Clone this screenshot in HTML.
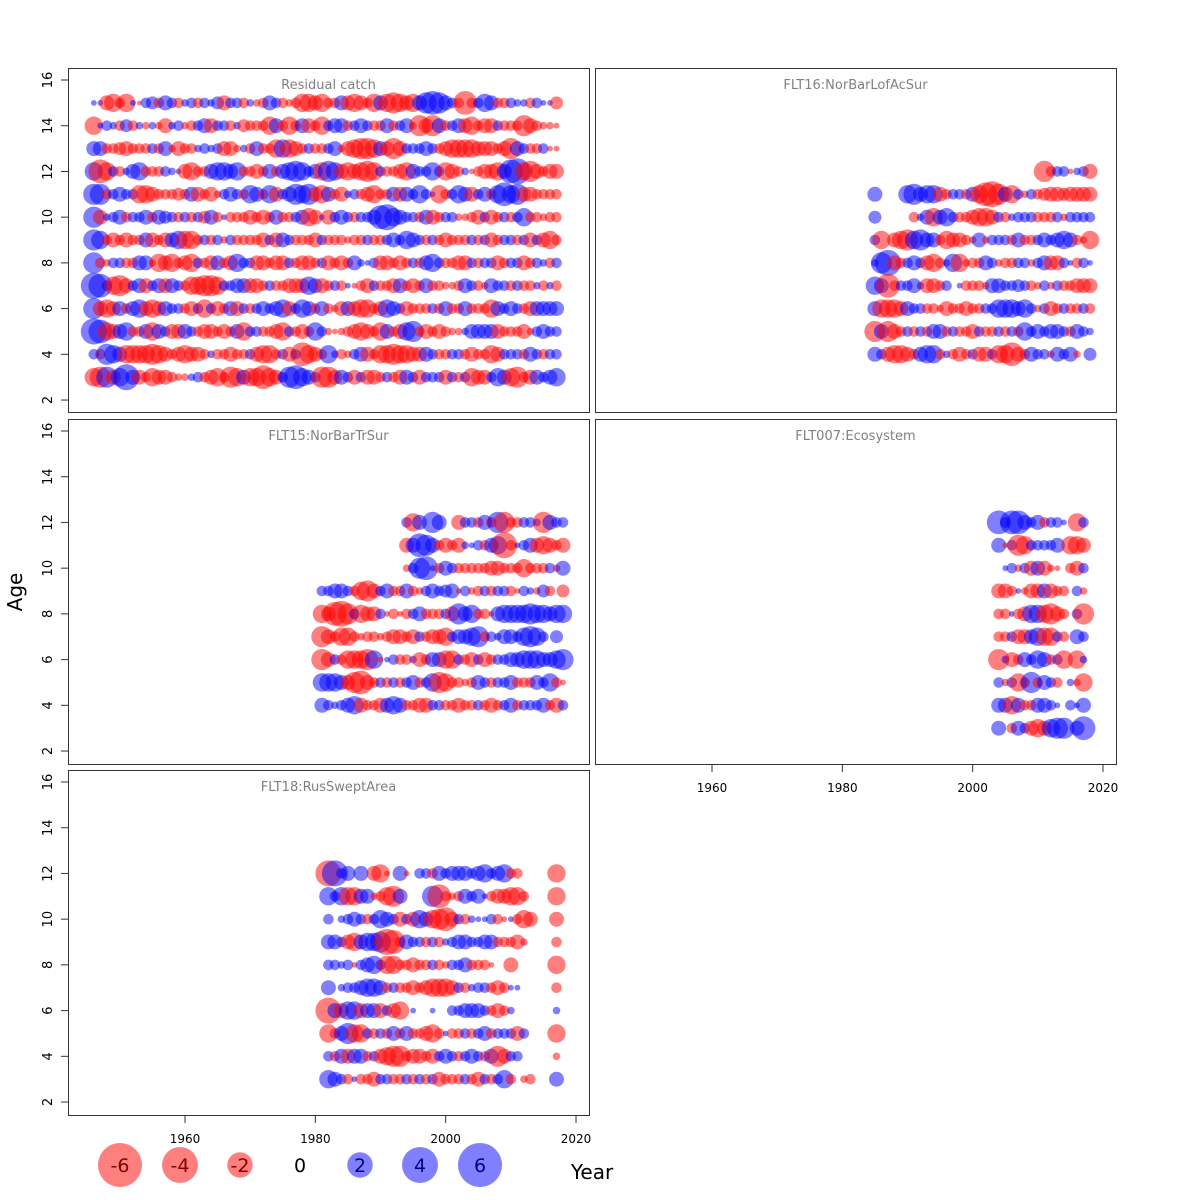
<!DOCTYPE html>
<html><head><meta charset="utf-8">
<style>
html,body{margin:0;padding:0;background:#fff;}
svg{display:block;font-family:"DejaVu Sans","Liberation Sans",sans-serif;}
</style></head>
<body>
<svg id="chart" width="1200" height="1200" viewBox="0 0 1200 1200" xmlns="http://www.w3.org/2000/svg">
<text x="22" y="592" font-size="20" text-anchor="middle" transform="rotate(-90 22 592)">Age</text>
<text x="592" y="1179" font-size="20" text-anchor="middle">Year</text>
<g id="legend"></g>
</svg>
<script>
const N = null;
const panelTitles = ["Residual catch","FLT16:NorBarLofAcSur","FLT15:NorBarTrSur","FLT007:Ecosystem","FLT18:RusSweptArea"];
const yTicks = [2,4,6,8,10,12,14,16];
const xTicks = [1960,1980,2000,2020];
const legendValues = [-6,-4,-2,0,2,4,6];
// residual arrays below are recorded in estimated size units; residual = unit * unitToResidual
const unitToResidual = 0.35;

const catchStart = 1946;
const catchAges = [15,14,13,12,11,10,9,8,7,6,5,4,3];
const catchRes = [
[0.3,0.3,-2,-3,-1,-3,0.3,-0.2,1,1.5,-1,2, 1,-1,0.5,1,-1,1,0.5,1.5,-2,1,1,-1, 0.5,-0.5,-1,2,1,-1,-0.5,-1,-3,-3,-2,-3, -1,-1,2,-2,-3,-2,-1,-3,2,-3,-4,-3, -2,-3,2,4,5,4,2,1,-1,-5,-1,1, 3,2,-1,-1,1,0.5,0.5,-1,1,0.3,0.3,-1.5],
[-3,0.3,1,0.5,-1,1.5,-1,0.5,-0.5,0.5,-0.5,-2, 0.5,1,-0.5,-1,1,2,-2,1,1,-1,0.5,-1.5, -1,-1,-1,-3,2,-1,-3,-1,2,-2,-1,-3, 1,2,2,-1,1,2,1,-1,-1,2,-1,1, 2,-0.5,-4,-2,-4,2,-1,1,2,-2,-3,-1, -2,-2,1,-1,-1,-1,-4,-2,-1,-0.5,-0.5,-0.3],
[2,2,-1,-1,-1.5,-2,-1,-1,-1,1,-1,2, -0.5,-2,-1,-1,0.5,1,0.5,1,-2,-2,-0.5,0.5, -1,2,-1,-1,-3,3,-3,-2,-1,1,-1,-1, 1,2,-0.5,-2,-3,-4,-4,-3,2,-2,-4,-2, 1,1,1,2,1,-1,-2,-3,-3,-3,-3,-2, -2,-2,-1,-2,-4,2,1,-1,-1,1,-0.3,-0.3],
[3,-5,-3,1,-1,0.5,2,3,-1,-1,-1,1, 0.5,0.3,-2,-3,-1,-1,2,3,3,2,3,-1, -1,-2,-1,2,-1,2,3,4,3,1,2,-3, 4,3,-2,-3,-2,-3,-4,-3,1,-1,-1,-2, -3,2,1,1,3,1,-3,-2,-1,0.5,-0.3,-1, -2,-2,-3,2,5,6,-3,-4,-2,-1,-2,-2],
[4,4,-1,1,2,1,1,-3,-3,-2,-1,-1, -1,-1.5,-1,2,-2,-1,-2,-0.5,1,2,1,-1, 3,2,-1,3,-2,1,2,4,3,4,-2,-3, 2,-1,-2,0.5,1,-1,-2,-3,-1,-1,2,-2, 2,1,3,1,0.3,-3,-1,1,3,2,-2,1, 2,-1,3,5,3,4,-2,-2,-1,-1,-1,-1],
[4,-2,0.5,1,2,-1,1,1,2,-1,2,1.5, 1,-1,1,-1,1,-1.5,2,-1,0.3,-1,-1,-1, -2,-1,-2,-1,2,-1,-1,1,2,-3,-2,0.3, -2,1,2,1,-1,1,1,2,5,6,3,2, 1,1,-1,2,-2,-1,1,1,-0.5,-0.5,-1,-2, 1,-2,-1,1,-1,1,3,-1,-1,-0.5,-1,-1],
[4,3,-1,-2,-1,-2,-1,-1,2,-2,-1,-2, 2,3,-3,-3,-1,1,-1,1,-0.5,1,-1,-1, -1,-1,-2,1,-2,2,1,-1,-1,-1,-2,1, -1,-1,-1,-0.5,-1,-1,1,-1,-1,1,2,1, 3,2,1,-1,1,-1,-2,-1,-1,-1,1,-1, 1,-2,-1,1,1,-1,1,-2,1,-2,-3,-1],
[4,-1,-0.5,1,1,-1,-1,2,2,-0.5,-3,-2, -3,-1,-2,-3,1,-1,-2,2,-1,-2,3,1, 1,-2,-2,-1,-2,-2,1,-1,-2,-2,-1,1, -2,-1,-2,-1,2,0.5,0.3,1,-2,-2,-1,-2, -1,1,-1,2,3,1,-1,-1,-2,-2,1,-1, 1,1,-2,-1,1,1,-2,-1,1,0.5,-1,1],
[6,5,1,-3,-4,-2,1,2,-2,1,2,-2, 2,1,-1,-3,-3,-4,-4,-3,1,1,2,2, -2,-2,-1,1,-1,-1,-2,-2,-2,3,2,-2, -1,1,-1,0.3,-0.3,-1,-2,1,-1,-1,-2,2, -1,-2,-1,2,-1,-1,-0.5,-0.5,-1,2,1,-1, -0.5,2,1,1,-1,1,-1,-1,0.5,-1,0.5,-1],
[4,-2,-3,-2,2,-1,2,3,-2,-3,-2,2, 1,1,-1,-2,1,-3,1,-2,-1,2,-2,1, -1,1,2,1,2,3,-2,1,3,2,-1,2, -1,-0.5,-2,2,-2,-3,-3,-1,-2,3,2,1, -2,-1,-1,-1,1,-1,2,-1,-1,2,-1,-1, -1,-3,2,1,2,1,-1,-2,2,2,2,2],
[6,5,-3,-2,2,3,-1,-1,2,-3,2,1, -2,-2,2,1,-1,-2,-2,-1,-2,-1,2,-3, 1,1,-1,-1,-2,-3,1,-1,-2,-1,3,1, -0.5,-0.3,-0.5,-1,-2,-3,-2,-1,-3,2,-1,-2, 3,4,-1,-2,-1,-2,-1,-0.5,-0.5,0.5,2,2, 2,2,-2,-1,-1,-1,-2,-0.5,1,2,1,1],
[1,-1,4,3,2,-3,-3,-3,-3,-4,-3,-2, -1,-2,-3,-2,-2,-1,0.5,-1,-1,-2,-1,-1, 1,-2,-3,-3,-1,1,-2,1,-5,-3,-2,-1, 3,0.5,-1,-0.5,1,2,-2,-1,-3,-3,-4,-3, -3,-2,-2,2,1,-1,-1,1,1,-1,-2,-1, -1,-3,-2,1,1,1,-1,2,1,-1,1,1],
[-3,-4,4,-2,3,6,2,-2,-1,-3,-2,-2, -1,-0.5,-0.5,0.5,1,-1,-2,-3,-1,-4,-3,2, -3,-3,-5,-3,-2,1,4,5,3,2,1,-4, -4,-2,2,1,-2,1,-2,-2,-1,1,-1,-2, 2,1,-2,1,1,1,-2,1,-1,1,-3,-2, -2,1,3,2,-3,-4,-1,-2,2,1,2,3]
];

const flt16Start = 1985;
const flt16Ages = [12,11,10,9,8,7,6,5,4];
const flt16Res = [
[N,N,N,N,N,N,N,N,N,N,N,N,N,N,N,N,N,N,N,N,N,N,N,N,N,N,-4,-1,1,1,-0.3,0.5,1,-2],
[2,N,N,N,N,3,4,2,3,3,-2,-1,1,1,-1,2,-3,-5,-6,-4,2,-3,1,-0.5,1,-1,-1.5,-2,-2,-1.5,-2,-2,-2,-2],
[1.5,N,N,N,N,N,-1,0.5,2,-3,2,3,1,-1,-1,-2,-3,-3,-2,1,-1,0.5,1,1,1,-1,-1,-1,1,-0.5,1,1,1,1],
[1,-3,N,-2,-3,-4,3,4,2,2,-1,-3,-2,-2,-1,-0.5,2,-0.5,1,1,1,-1,2,-1,-1,1,2,1,2,3,2,-1,-0.5,-3],
[0.5,4,6,-2,-1,1,2,1,-2,-3,-1,0.5,3,-3,-0.5,-1,-1,2,1,-0.5,-1,-1,1,1,-0.5,1,2,-2,-2,1,0.3,-1,1,0.3],
[3,2,-5,-1,1,1,2,0.5,-2,-2,-1,1,N,0.3,-1,-1,-1,-0.5,2,2,1,1,1.5,1,-1,-0.5,1,-0.5,1,-1,-1,-2,-2,-2],
[2,-3,-3,-3,-2,2,1,1,-1,-1,-0.5,-2,-1,-1,-2,-1,-1,1,1,3,3,3,2,3,1,-0.5,1,-2,-1,1,-1,-1,1,-1],
[-4,2,-4,-2,-1,1,-1,1,-1,2,2,-1,1,-1,-1,-2,1,-1,-1,1,-1,1,-1,3,1,2,1,2,2,1,-1,2,1,0.5],
[2,1,-2,-3,-3,-2,-1,2,3,3,-1,0.5,-1,-2,-1,1,-2,-2,1,-3,-3,-5,-2,-1,2,1,1,-0.5,2,1,2,-0.5,N,1.5]
];

const flt15AgesA = [12,11,10];
const flt15StartA = 1994;
const flt15ResA = [
[1,-3,2,N,4,2,N,N,-2,1,1,-1,2,-1,4,-4,-1,-1,1,1,0.5,-4,2,1,1],
[-2,2,5,4,2,-1,-2,-1,-2,0.5,0.3,1,-1,2,3,-6,-1,0.3,1,2,-2,-3,-2,-1,-2],
[-0.5,1,4,5,0.3,-1,2,1,-1,-1,-1,-1,-1,-2,-2,-1,-1,-1,-3,-1,-1,-1,1,-0.5,2]
];
const flt15AgesB = [9,8,7,6,5,4];
const flt15StartB = 1981;
const flt15ResB = [
[1,1,2,2,1,-1,-3,-4,-2,1,2,-1,-1,2,-1,-0.5,1,2,1,1.5,2,-0.3,1,-0.5,-1,1,-1,1,1,-1,-0.3,1,0.5,-0.5,1.5,-1,N,-1.5],
[-3,-2,-5,-6,-4,1,-3,-2,-2,1,-0.3,-1,-0.3,-1,1,2,-1,-1,-1,1,-2,4,2,3,-1,-1,-0.3,2,3,3,3,3,4,3,3,2,3,3],
[-4,-2,-1,-3,-3,-1,-0.5,-1,-1,-0.5,-1,-2,-2,-1,-2,1,-1,-2,-2,-3,1,2,2,3,4,-1,1,0.5,2,2,1,3,4,3,1,N,1.5,N],
[-4,-2,1,-1,-3,-3,-3,-4,3,-0.3,0.3,1,-1,-1,0.5,-2,-1,2,2,-3,-3,1,-1,-2,1,-2,-1,1,1,2,2,3,3,3,2,2,3,4],
[3,3,3,2,-2,-4,-5,-2,-1,1,-1,1,-1,1,2,-1,1,3,-4,-3,-1,-1,-0.5,-1,2,1,-1,1,1,2,-1,-1,-1,2,1,3,-1,-0.3],
[2,1,0.5,1,2,3,-2,-1,-1,-2,2,3,2,-1,-1,-2,-2,1,1,-1,-1,-2,-1,-1,1,-1,-2,-1,1,2,-1,1,1,1,2,-1,-2,1]
];

const flt007Start = 2004;
const flt007Ages = [12,11,10,9,8,7,6,5,4,3];
const flt007Res = [
[5,1,5,5,2,1,2,-1,1,1,0.3,N,-3,1],
[2,-0.3,1,-4,-3,1,1,1,1,2,N,-3,-3,-2],
[N,0.3,1,-0.5,1,-2,2,-2,-0.5,-0.3,N,-1,-2,1],
[-2,-2,-1,0.3,-0.5,-2,-2,2,-2,-1,-1,N,1,-0.5],
[-1,-1,0.3,-1,-2,3,3,-3,-4,-2,-1,N,1,-4],
[-1,-1,1,-2,-2,2,3,-3,-3,1,-1,N,2,1],
[-4,0.5,-2,-1,2,1,3,2,-1,1,-3,N,-3,0.5],
[1,-0.5,1,-3,-1,4,-1,2,1,-1,N,0.5,-0.5,-3],
[2,2,-3,2,-1,-1,2,2,1,0.3,N,1,0.3,2],
[2,N,-1,2,1,-2,-3,-2,3,4,4,N,2,5]
];

const flt18Start = 1982;
const flt18Ages = [12,11,10,9,8,7,6,5,4,3];
const flt18Res = [
[-6,6,1,2,N,2,N,-2,-3,-0.3,N,2,-0.3,N,1,1,-1,2,1,2,2,2,1,2,3,1,2,3,-1,-1,N,N,N,N,N,-3],
[3,1,3,-3,-3,2,2,-0.5,-1,-3,-4,2,N,N,N,N,4,-5,-1,-0.5,-1,2,1,2,0.3,-1,-2,-2,-3,-3,-1,N,N,N,N,-3],
[1,N,0.5,1,2,1,-1,1,3,2,1,-2,1,-2,3,2,-3,-4,-5,-2,1,-1,0.5,0.3,0.3,1,-1,-0.3,0.3,-1,-3,-2,N,N,N,-2],
[2,2,1,-2,-3,2,3,3,4,-6,-5,-1,2,1,1,-1,1,-1,0.5,1,2,2,1,1,2,2,-1,-1,-1,-2,-0.5,N,N,N,N,-1],
[1,1,0.5,1,-0.3,1,2,3,1,-3,-3,-1,-1,-2,-1,-1,1,-1,-0.5,1,1,2,-1,-1,-1,-0.3,N,N,-2,N,N,N,N,N,N,-3],
[2,N,0.5,1,1,2,3,3,2,-1,1,-1,-1,-2,-1,-2,-3,-3,-3,-2,1,-1,0.5,1,1,-1,-2,-1,0.3,0.3,N,N,N,N,N,-1],
[-6,2,-2,3,3,-2,2,2,-2,1,-2,-3,N,0.3,N,N,0.3,N,N,1,1,2,2,2,1,-1,-2,-1,0.5,N,N,N,N,N,N,0.5],
[-3,-1,2,4,-3,-3,1,-1,1,-1,2,-1,2,-1,-1,-2,-3,-1,0.3,-1,-1,1,-1,1,2,-1,1,1,1,-2,1,N,N,N,N,-3],
[1,-1,2,-2,2,2,-1,1,-2,-3,-4,-4,-1,-2,-2,-1,-2,1,2,1,-1,1,2,1,-1,2,-4,-2,1,1,N,N,N,N,N,-0.5],
[3,2,1,-1,0.3,-1,-1,-2,1,1,-1,-1,1,-1,1,-1,1,-2,-1,-1,-1,1,-1,-2,1,-1,1,3,-1,N,-0.5,-1,N,N,N,2]
];

const SVGNS = "http://www.w3.org/2000/svg";
const svg = document.getElementById('chart');
const panels = [
  {x0:68,x1:589,y0:68,y1:412,left:true,bottom:false},
  {x0:595,x1:1116,y0:68,y1:412,left:false,bottom:false},
  {x0:68,x1:589,y0:419,y1:764,left:true,bottom:false},
  {x0:595,x1:1116,y0:419,y1:764,left:false,bottom:true},
  {x0:68,x1:589,y0:770,y1:1115,left:true,bottom:true}
];
function xScale(p, yr){ return p.x0 + (185-68) + (yr-1960)*6.517; }
function yScale(p, age){ return p.y0 + 12 + (16-age)*22.86; }
function rScale(v){ return 9*Math.sqrt(Math.abs(v)); }
function mk(tag, attrs, parent){
  const e = document.createElementNS(SVGNS, tag);
  for (const k in attrs) e.setAttribute(k, attrs[k]);
  (parent||svg).appendChild(e);
  return e;
}
function drawBubbles(p, g, ages, start, rows){
  rows.forEach((row, i) => {
    row.forEach((u, j) => {
      if (u === null || u === 0) return;
      const v = u * unitToResidual;
      const c = mk('circle', {cx: xScale(p, start+j).toFixed(1), cy: yScale(p, ages[i]).toFixed(1), r: rScale(v).toFixed(1),
        fill: v < 0 ? 'rgba(255,0,0,0.5)' : 'rgba(0,0,255,0.5)'}, g);
      
      
    });
  });
}
panels.forEach((p, k) => {
  const g = mk('g', {});
  
  
  const box = mk('rect', {x:p.x0+0.5, y:p.y0+0.5, width:p.x1-p.x0, height:p.y1-p.y0, fill:'none', stroke:'#333', 'stroke-width':1}, g);
  
  
  const t = mk('text', {x:(p.x0+p.x1)/2, y:p.y0+21, 'font-size':13, fill:'#808080', 'text-anchor':'middle'}, g);
  t.textContent = panelTitles[k];
  
  
  if (p.left) {
    yTicks.forEach(v => {
      const y = yScale(p, v);
      mk('line', {x1:p.x0, x2:p.x0-7, y1:y, y2:y, stroke:'#333'}, g);
      const lt = mk('text', {x:p.x0-16, y:y, 'font-size':13, 'text-anchor':'middle', transform:'rotate(-90 '+(p.x0-16)+' '+y+')'}, g);
      lt.textContent = v;
      
      
    });
  }
  if (p.bottom) {
    xTicks.forEach(v => {
      const x = xScale(p, v);
      mk('line', {x1:x, x2:x, y1:p.y1, y2:p.y1+8, stroke:'#333'}, g);
      const lt = mk('text', {x:x, y:p.y1+28, 'font-size':12, 'text-anchor':'middle'}, g);
      lt.textContent = v;
      
      
    });
  }
  if (k===0) drawBubbles(p, g, catchAges, catchStart, catchRes);
  if (k===1) drawBubbles(p, g, flt16Ages, flt16Start, flt16Res);
  if (k===2) { drawBubbles(p, g, flt15AgesA, flt15StartA, flt15ResA); drawBubbles(p, g, flt15AgesB, flt15StartB, flt15ResB); }
  if (k===3) drawBubbles(p, g, flt007Ages, flt007Start, flt007Res);
  if (k===4) drawBubbles(p, g, flt18Ages, flt18Start, flt18Res);
});
const lg = document.getElementById('legend');
legendValues.forEach((v, i) => {
  const cx = 120 + i*60, cy = 1165;
  if (v !== 0) {
    const c = mk('circle', {cx:cx, cy:cy, r: rScale(v).toFixed(1), fill: v<0?'rgba(255,0,0,0.5)':'rgba(0,0,255,0.5)'}, lg);
    
    
  }
  const t = mk('text', {x:cx, y:cy+7, 'font-size':19, 'text-anchor':'middle', fill: v<0?'#800000':(v>0?'#000080':'#000')}, lg);
  t.textContent = v;
  
  
});
</script>
</body></html>
